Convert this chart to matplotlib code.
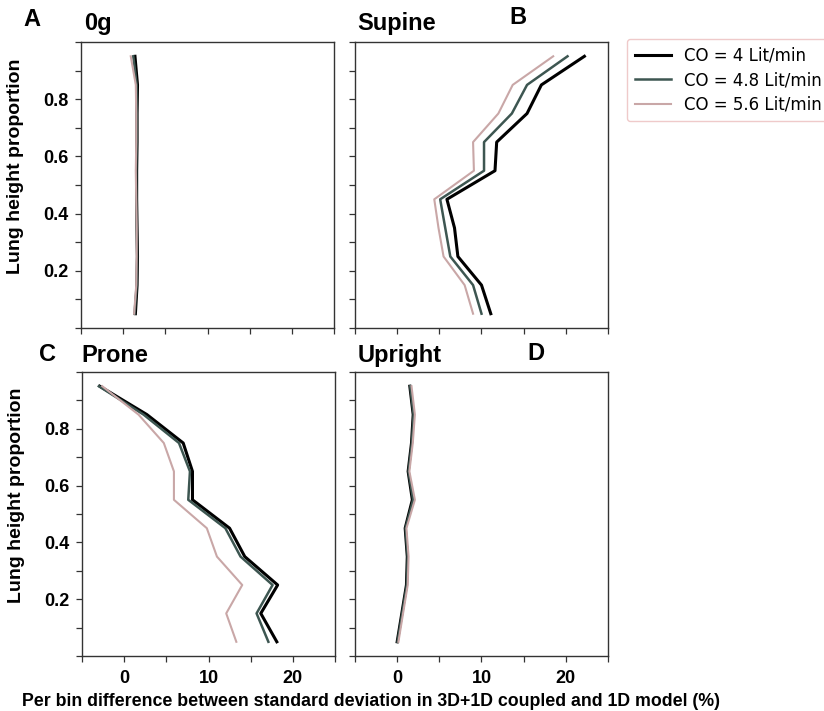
import numpy as np
import matplotlib
matplotlib.use('Agg')
import matplotlib.pyplot as plt
from matplotlib.ticker import MultipleLocator

# bin centres along the lung height
heights = [0.05, 0.15, 0.25, 0.35, 0.45, 0.55, 0.65, 0.75, 0.85, 0.95]

labels = ['CO = 4 Lit/min', 'CO = 4.8 Lit/min', 'CO = 5.6 Lit/min']

# 0g
zero_g_4 = [1.45, 1.65, 1.7, 1.65, 1.6, 1.6, 1.65, 1.65, 1.7, 1.4]
zero_g_48 = [1.35, 1.6, 1.65, 1.6, 1.55, 1.55, 1.6, 1.6, 1.6, 1.2]
zero_g_56 = [1.3, 1.55, 1.6, 1.6, 1.55, 1.5, 1.55, 1.55, 1.5, 0.9]

# supine
supine_4 = [11.1, 10.0, 7.2, 6.8, 5.9, 11.6, 11.8, 15.4, 17.1, 22.2]
supine_48 = [10.0, 9.0, 6.3, 5.7, 5.1, 10.3, 10.3, 13.6, 15.4, 20.2]
supine_56 = [9.0, 8.0, 5.5, 4.9, 4.4, 9.1, 9.0, 12.0, 13.7, 18.5]

# prone
prone_4 = [18.1, 16.2, 18.2, 14.3, 12.5, 8.1, 8.1, 7.0, 2.7, -2.9]
prone_48 = [17.1, 15.7, 17.6, 13.8, 12.0, 7.6, 7.8, 6.5, 2.3, -3.0]
prone_56 = [13.3, 12.1, 14.0, 11.0, 9.8, 5.9, 5.9, 4.7, 1.7, -2.6]

# upright
upright_4 = [0.0, 0.55, 1.1, 1.2, 0.95, 1.8, 1.3, 1.7, 1.9, 1.5]
upright_48 = [0.05, 0.6, 1.15, 1.25, 1.0, 1.9, 1.35, 1.75, 1.95, 1.55]
upright_56 = [0.15, 0.7, 1.25, 1.35, 1.1, 2.1, 1.45, 1.85, 2.1, 1.7]

colors = ['#000000', '#3d5651', '#c9a7a7']
widths = [2.2, 1.8, 1.5]

panels = [
    ('0g', 'A', [zero_g_4, zero_g_48, zero_g_56]),
    ('Supine', 'B', [supine_4, supine_48, supine_56]),
    ('Prone', 'C', [prone_4, prone_48, prone_56]),
    ('Upright', 'D', [upright_4, upright_48, upright_56]),
]

W, H = 824, 711
fig = plt.figure(figsize=(W / 100, H / 100), dpi=100)
bold = dict(family='Liberation Sans', weight='bold')

# axes boxes in pixels: left, top, right, bottom
boxes = [(81, 42, 334, 328), (355, 42, 608, 328),
         (82, 372, 335, 656), (355, 372, 608, 656)]
# title / letter positions in pixels (x, baseline y)
title_pos = [(84, 30), (357, 30), (81, 362), (358, 362)]
letter_pos = [(23, 26), (509, 24), (39, 361), (527, 360)]

for i, (title, letter, series) in enumerate(panels):
    l, t, r, b = boxes[i]
    ax = fig.add_axes([l / W, 1 - b / H, (r - l) / W, (b - t) / H])
    for vals, lab, c, lw in zip(series, labels, colors, widths):
        ax.plot(vals, heights, color=c, lw=lw, label=lab)
    ax.set_xlim(-5, 25)
    ax.set_ylim(0, 1)
    ax.xaxis.set_major_locator(MultipleLocator(10))
    ax.xaxis.set_minor_locator(MultipleLocator(5))
    ax.yaxis.set_major_locator(MultipleLocator(0.2))
    ax.yaxis.set_minor_locator(MultipleLocator(0.1))
    ax.set_yticks([0.2, 0.4, 0.6, 0.8])
    ax.tick_params(which='both', length=4, width=0.9, color='#333333')
    ax.tick_params(axis='x', pad=6)
    ax.tick_params(axis='y', pad=5)
    for s in ax.spines.values():
        s.set_color('#333333')
        s.set_linewidth(1.0)
    if i < 2:
        ax.tick_params(axis='x', labelbottom=False)
    if i % 2 == 1:
        ax.tick_params(axis='y', labelleft=False)
    else:
        ax.set_ylabel('Lung height proportion', fontsize=14, **bold)
        ax.yaxis.set_label_coords(-0.225, 0.565)
    for lab in ax.get_xticklabels() + ax.get_yticklabels():
        lab.set_fontsize(13)
        lab.set_fontfamily('Liberation Sans')
        lab.set_fontweight('bold')
    tx, ty = title_pos[i]
    fig.text(tx / W, 1 - ty / H, title, fontsize=17, va='baseline', **bold)
    lx, ly = letter_pos[i]
    fig.text(lx / W, 1 - ly / H, letter, fontsize=17, va='baseline', **bold)
    if i == 0:
        handles, hl = ax.get_legend_handles_labels()

fig.legend(handles, hl, loc='upper left', bbox_to_anchor=(627 / W, 1 - 39 / H),
           fontsize=12, frameon=True, edgecolor='#efcaca', framealpha=1,
           borderaxespad=0, handlelength=2.2, borderpad=0.45, labelspacing=0.4)

fig.text(371 / W, 1 - 706 / H,
         'Per bin difference between standard deviation in 3D+1D coupled and 1D model (%)',
         fontsize=12.8, ha='center', va='baseline', **bold)

plt.savefig('out.png', dpi=100)
